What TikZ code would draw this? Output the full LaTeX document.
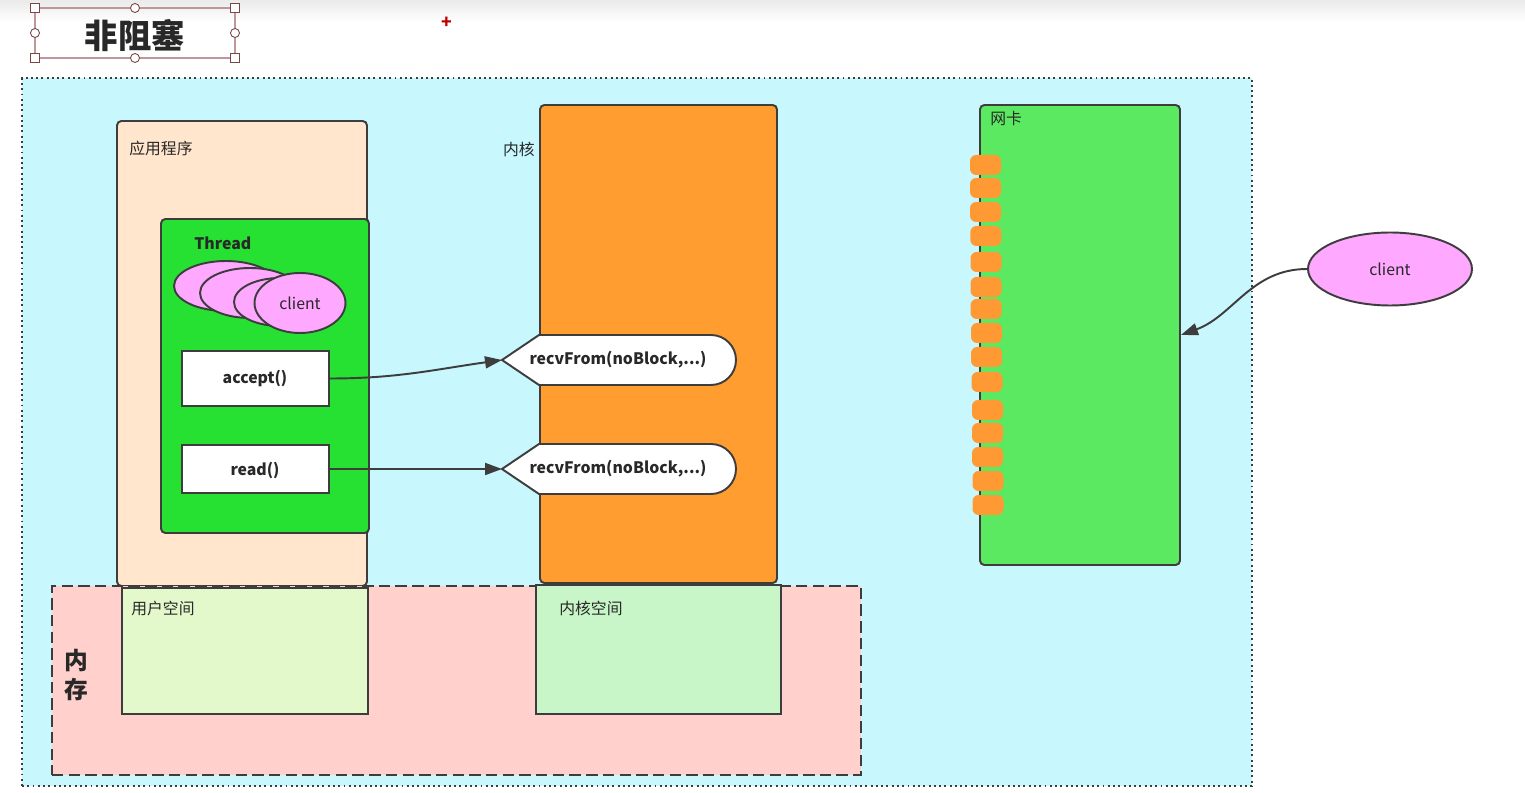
\documentclass[tikz,border=0pt]{standalone}
\usepackage{fontspec}
\setmainfont{Noto Sans CJK SC}
\usetikzlibrary{arrows.meta,fit,shapes.geometric}
\definecolor{bgcyan}{RGB}{200,248,253}
\definecolor{peach}{RGB}{255,230,204}
\definecolor{thrgreen}{RGB}{38,224,50}
\definecolor{cpink}{RGB}{255,168,255}
\definecolor{korange}{RGB}{255,157,48}
\definecolor{nicgreen}{RGB}{91,233,98}
\definecolor{pillor}{RGB}{255,153,51}
\definecolor{mempink}{RGB}{255,208,204}
\definecolor{userg}{RGB}{228,249,203}
\definecolor{kernelg}{RGB}{200,246,200}
\definecolor{edge}{RGB}{61,61,61}
\definecolor{txt}{RGB}{40,40,40}
\definecolor{handle}{RGB}{120,70,70}
\definecolor{selb}{RGB}{190,150,155}
\begin{document}
\begin{tikzpicture}[x=0.02cm,y=-0.02cm,
  boxstyle/.style={draw=edge,line width=1.1pt,inner sep=0pt,rounded corners=2.5pt},
  flatbox/.style={draw=edge,line width=1.1pt,inner sep=0pt},
  lbl/.style={text=txt,font=\fontsize{9}{10}\selectfont,inner sep=0pt},
  blbl/.style={text=txt,font=\fontsize{9}{11}\selectfont\bfseries,inner sep=0pt},
  cli/.style={ellipse,draw=edge,line width=1.1pt,fill=cpink,inner sep=0pt},
  conn/.style={draw=edge,line width=1.1pt,-{Triangle[length=0.34cm,width=0.24cm]}},
  pill/.style={fill=pillor,rounded corners=3.5pt,minimum width=0.62cm,minimum height=0.4cm,inner sep=0pt},
  sq/.style={draw=handle,fill=white,line width=0.5pt,minimum size=0.17cm,inner sep=0pt},
  rd/.style={circle,draw=handle,fill=white,line width=0.5pt,minimum size=0.18cm,inner sep=0pt}
]
\useasboundingbox (0,0) rectangle (1525,793);
\fill[white] (0,0) rectangle (1525,793);
\shade[top color=black!8,bottom color=white] (0,0) rectangle (1525,22);

% title with selection handles
\node[fit={(35,8) (235,58)},draw=selb,line width=0.6pt,inner sep=0pt] (title) {};
\node[text=txt,font=\fontsize{19}{20}\selectfont\bfseries] (titletext) at (135,36) {非阻塞};
\foreach \p/\n in {(35,8)/a,(235,8)/b,(35,58)/c,(235,58)/d}
  \node[sq] (h\n) at \p {};
\foreach \p/\n in {(135,8)/e,(135,58)/f,(35,33)/g,(235,33)/h}
  \node[rd] (h\n) at \p {};
\node[text=red!75!black,font=\fontsize{10}{10}\selectfont\bfseries] (plus) at (447,23) {+};

% main area
\node[fit={(22,78) (1252,786)},fill=bgcyan,draw=edge,line width=1.2pt,dash pattern=on 1.1pt off 1.9pt,inner sep=0pt] (main) {};

% application
\node[fit={(117,121) (367,586)},boxstyle,fill=peach] (app) {};
\node[lbl,anchor=west] (applbl) at (129,148) {应用程序};

% thread
\node[fit={(161,219) (369,533)},boxstyle,fill=thrgreen] (thread) {};
\node[blbl,anchor=west] (threadlbl) at (194,243) {Thread};
\node[cli,minimum width=2.08cm,minimum height=1.0cm] (c1) at (226,286) {};
\node[cli,minimum width=2.0cm,minimum height=1.0cm] (c2) at (250,293) {};
\node[cli,minimum width=1.84cm,minimum height=0.96cm] (c3) at (280,302) {};
\node[cli,minimum width=1.82cm,minimum height=1.2cm,text=txt,font=\fontsize{9}{10}\selectfont] (c4) at (300,303) {client};

\node[fit={(182,351) (329,406)},flatbox,fill=white] (accept) {};
\node[blbl] (acceptlbl) at (255,378) {accept()};
\node[fit={(182,445) (329,493)},flatbox,fill=white] (read) {};
\node[blbl] (readlbl) at (255,470) {read()};

% kernel
\node[fit={(540,105) (777,583)},boxstyle,fill=korange] (kernel) {};
\node[lbl,anchor=east] (kernellbl) at (535,149) {内核};

% recvFrom tags
\foreach \yc/\n in {360/r1,469/r2}{
  \draw[draw=edge,line width=1.1pt,fill=white] (502,\yc) -- (539,\yc-25) -- (711,\yc-25)
     arc[start angle=90,end angle=-90,radius=0.5cm] -- (539,\yc+25) -- cycle;
  \coordinate (\n tip) at (502,\yc);
  \node[blbl] (\n) at (618,\yc) {recvFrom(noBlock,...)};
}

% connectors
\draw[conn] (accept.east) to[out=0,in=188] (r1tip);
\draw[conn] (read.east |- r2tip) -- (r2tip);

% network card
\node[fit={(980,105) (1180,565)},boxstyle,fill=nicgreen] (nic) {};
\node[lbl,anchor=west] (niclbl) at (990,118) {网卡};
\foreach \yy/\xx [count=\i] in {165/985.5,188/985.5,212/985.5,236/985.8,262/986,287/986,309/986,333/986.5,357/986.5,382/987,410/987.5,433/987.5,457/987.5,481/988,505/988}
  \node[pill] (p\i) at (\xx,\yy) {};

% external client
\node[cli,minimum width=3.28cm,minimum height=1.46cm,text=txt,font=\fontsize{9}{10}\selectfont] (client) at (1390,269) {client};
\draw[conn] (client.west) to[out=180,in=20] (nic.east);

% memory
\node[fit={(52,586) (861,775)},fill=mempink,draw=edge,line width=1.2pt,dash pattern=on 6.5pt off 3pt,inner sep=0pt] (mem) {};
\node[text=txt,font=\fontsize{13.5}{16}\selectfont\bfseries,align=center,inner sep=0pt] (memlbl) at (76,675) {内\\存};
\node[fit={(122,588) (368,714)},flatbox,fill=userg] (user) {};
\node[lbl,anchor=west] (userlbl) at (131,608) {用户空间};
\node[fit={(536,585) (781,714)},flatbox,fill=kernelg] (kspace) {};
\node[lbl,anchor=west] (kslbl) at (559,608) {内核空间};
\end{tikzpicture}
\end{document}
